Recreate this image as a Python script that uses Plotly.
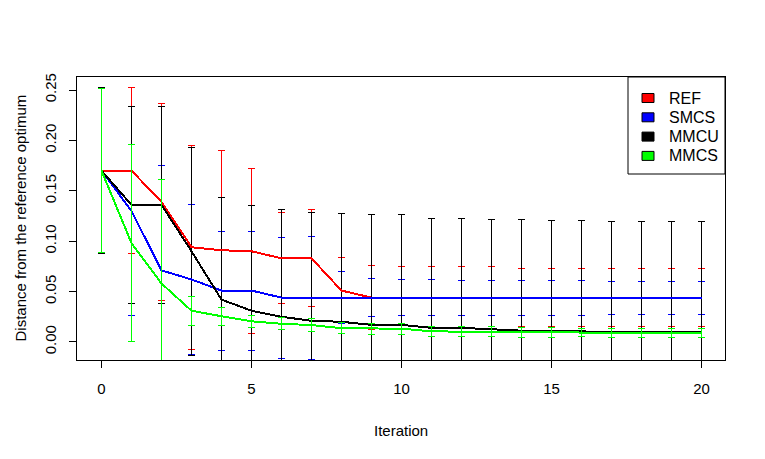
import plotly.graph_objects as go

# ---- data ----
iterations = list(range(21))
series_names = ["REF", "SMCS", "MMCU", "MMCS"]
series_colors = ["#FF0000", "#0000FF", "#000000", "#00FF00"]

ref_mean = [0.170, 0.170, 0.139, 0.094, 0.091, 0.090, 0.083, 0.083, 0.051, 0.044,
            0.044, 0.044, 0.044, 0.044, 0.044, 0.044, 0.044, 0.044, 0.044, 0.044, 0.044]
ref_sd = [0.082, 0.082, 0.098, 0.101, 0.099, 0.082, 0.045, 0.048, 0.033, 0.032,
          0.031, 0.031, 0.031, 0.031, 0.029, 0.029, 0.029, 0.029, 0.029, 0.029, 0.029]

smcs_mean = [0.170, 0.130, 0.071, 0.062, 0.051, 0.051, 0.044, 0.044, 0.044, 0.044,
             0.044, 0.044, 0.044, 0.044, 0.044, 0.044, 0.044, 0.044, 0.044, 0.044, 0.044]
smcs_sd = [0.082, 0.1035, 0.104, 0.074, 0.059, 0.059, 0.060, 0.061, 0.026, 0.019,
           0.018, 0.018, 0.0173, 0.0173, 0.0173, 0.0173, 0.0173, 0.0163, 0.0163, 0.0163, 0.0163]

mmcu_mean = [0.170, 0.136, 0.136, 0.090, 0.042, 0.031, 0.025, 0.021, 0.020, 0.017,
             0.017, 0.014, 0.014, 0.0126, 0.0112, 0.011, 0.0102, 0.0099, 0.0095, 0.0095, 0.0095]
mmcu_sd = [0.082, 0.098, 0.098, 0.103, 0.101, 0.104, 0.106, 0.107, 0.107, 0.109,
           0.109, 0.109, 0.109, 0.109, 0.110, 0.110, 0.110, 0.110, 0.1105, 0.1105, 0.1105]

mmcs_mean = [0.170, 0.098, 0.058, 0.031, 0.0255, 0.0205, 0.018, 0.0168, 0.0136, 0.0132,
             0.0132, 0.0105, 0.0102, 0.0100, 0.0098, 0.0095, 0.0092, 0.0089, 0.0089, 0.0089, 0.0089]
mmcs_sd = [0.0815, 0.098, 0.103, 0.0145, 0.009, 0.006, 0.006, 0.006, 0.0056, 0.0053,
           0.0053, 0.0047, 0.005, 0.005, 0.005, 0.005, 0.004, 0.004, 0.004, 0.004, 0.004]

y_tick_vals = [0.00, 0.05, 0.10, 0.15, 0.20, 0.25]
y_tick_text = ["0.00", "0.05", "0.10", "0.15", "0.20", "0.25"]
x_tick_vals = [0, 5, 10, 15, 20]

x_title = "Iteration"
y_title = "Distance from the reference optimum"

means = [ref_mean, smcs_mean, mmcu_mean, mmcs_mean]
sds = [ref_sd, smcs_sd, mmcu_sd, mmcs_sd]

FONT = "Liberation Sans"
OFF = 8                      # page body margin
W, H = 765 - OFF, 459 - OFF
L, R, T, B = 77 - OFF, 40, 77 - OFF, 99
PW, PH = W - L - R, H - T - B
X_RANGE = [-0.8, 20.8]
HALF_PX = 0.5 * (X_RANGE[1] - X_RANGE[0]) / PW   # centre 1px strokes on pixels


def px(xw):
    """window x pixel -> paper fraction"""
    return (xw - OFF - L) / PW


def py(yw):
    """window y pixel -> paper fraction"""
    return (H - B - (yw - OFF)) / PH


def err_trace(i):
    return go.Scatter(
        x=iterations, y=means[i], mode="markers",
        marker=dict(size=1, color="rgba(0,0,0,0)"),
        error_y=dict(type="data", array=sds[i], symmetric=True,
                     color=series_colors[i], thickness=1, width=3.5),
        showlegend=False, hoverinfo="skip")


def line_trace(i):
    return go.Scatter(
        x=iterations, y=means[i], mode="lines", name=series_names[i],
        line=dict(color=series_colors[i], width=2), showlegend=False)


fig = go.Figure()
for i in range(3):
    fig.add_trace(err_trace(i))
for i in range(3):
    fig.add_trace(line_trace(i))
fig.add_trace(err_trace(3))
fig.add_trace(line_trace(3))

fig.update_layout(
    width=W, height=H, autosize=False,
    margin=dict(l=L, r=R, t=T, b=B, pad=0),
    paper_bgcolor="white", plot_bgcolor="white",
    font=dict(family=FONT, size=15, color="black"),
    showlegend=False,
)
fig.update_xaxes(
    range=[X_RANGE[0] - HALF_PX, X_RANGE[1] - HALF_PX],
    tickvals=x_tick_vals, ticks="outside", ticklen=7,
    tickcolor="black", tickwidth=1, showline=True, mirror=True,
    linecolor="black", linewidth=1, showgrid=False, zeroline=False,
    tickfont=dict(family=FONT, size=15, color="black"), ticklabelstandoff=8)
fig.update_yaxes(
    range=[-0.0179, 0.2629], tickvals=y_tick_vals, ticktext=y_tick_text,
    tickangle=-90, ticks="outside", ticklen=7, tickcolor="black", tickwidth=1,
    showline=True, mirror=True, linecolor="black", linewidth=1,
    showgrid=False, zeroline=False,
    tickfont=dict(family=FONT, size=15, color="black"), ticklabelstandoff=7)

annotations = [
    dict(text=x_title, xref="paper", yref="paper", x=0.5, y=py(430),
         xanchor="center", yanchor="middle", showarrow=False,
         font=dict(family=FONT, size=15, color="black")),
    dict(text=y_title, xref="paper", yref="paper", x=px(20), y=0.5,
         xanchor="center", yanchor="middle", textangle=-90, showarrow=False,
         font=dict(family=FONT, size=15, color="black")),
]
shapes = [
    dict(type="rect", xref="paper", yref="paper", x0=px(628), x1=1.0,
         y0=py(174), y1=1.0, line=dict(color="black", width=1),
         fillcolor="white", layer="above"),
]
for k, name in enumerate(series_names):
    yc = 98 + 19.3 * k
    shapes.append(dict(type="rect", xref="paper", yref="paper",
                       x0=px(642), x1=px(654), y0=py(yc + 4.5), y1=py(yc - 4.5),
                       line=dict(color="black", width=1),
                       fillcolor=series_colors[k], layer="above"))
    annotations.append(dict(text=name, xref="paper", yref="paper",
                            x=px(667), y=py(yc), xanchor="left",
                            yanchor="middle", showarrow=False,
                            font=dict(family=FONT, size=16, color="black")))
fig.update_layout(annotations=annotations, shapes=shapes)

crisp = ("var s=document.createElement('style');"
         "s.innerHTML='.js-plotly-plot svg path.js-line,.js-plotly-plot svg path.yerror"
         "{shape-rendering:crispEdges !important;}';"
         "document.head.appendChild(s);")
fig.write_html("out.html", post_script=crisp)
